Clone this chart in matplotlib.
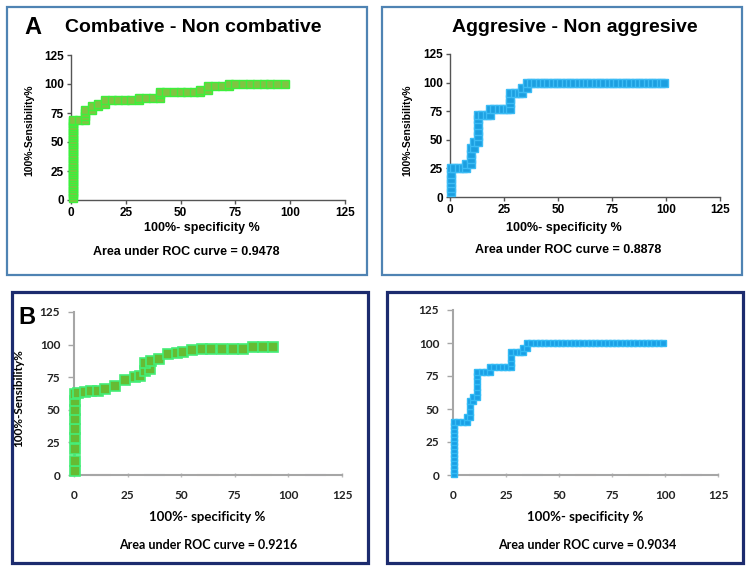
import matplotlib
matplotlib.use("Agg")
import matplotlib.pyplot as plt
from matplotlib.patches import Rectangle

W, H = 751, 569

# ---------------- data ----------------
ticks = [0, 25, 50, 75, 100, 125]
tick_labels = ["0", "25", "50", "75", "100", "125"]

titles = ["Combative - Non combative", "Aggresive - Non aggresive"]
auc_texts = ["Area under ROC curve = 0.9478", "Area under ROC curve = 0.8878",
             "Area under ROC curve = 0.9216", "Area under ROC curve = 0.9034"]
xlabel = "100%- specificity %"
ylabel = "100%-Sensibility%"

# Panel A, combative
a1_fpr = [1, 1, 1, 1, 1, 1, 1, 1, 1, 1, 1, 1, 1, 1, 1, 1, 1, 1, 1, 1, 1, 1, 1, 1, 1, 1, 1, 1, 1, 1, 1, 1, 1, 1,
          1, 3.5, 6.5, 6.5, 6.5, 6.5, 9.5, 9.5, 12.5, 12.5, 15.5, 15.5, 18.5, 21.5, 24.5, 27.5, 31, 31,
          34, 37.5, 40.5, 40.5, 40.5, 43.5, 47, 50, 53, 56, 59, 59, 62.5, 62.5, 65.5, 69, 72, 72,
          75, 78.5, 81.5, 85, 88, 91, 94, 97.5]
a1_tpr = [2, 4, 6, 8, 10, 12, 14, 16, 18, 20, 22, 24, 26, 28, 30, 32, 34, 36, 38, 40, 42, 44, 46, 48, 50, 52, 54,
          56, 58, 60, 62, 64, 66, 68,
          69, 69, 69, 72, 75, 78, 78, 81, 81, 83, 83, 86, 86, 86, 86, 86, 86, 88,
          88, 88, 88, 91, 93, 93, 93, 93, 93, 93, 93, 95, 95, 98, 98, 98, 98, 100,
          100, 100, 100, 100, 100, 100, 100, 100]

# Panel A, aggressive
a2_fpr = [0.5, 0.5, 0.5, 0.5, 0.5, 0.5, 2, 4, 6, 7.5, 7.5, 9.5, 9.5, 9.5, 9.5, 11, 11,
          13, 13, 13, 13, 13, 13, 15, 17, 18.5, 18.5, 20.5, 22.5, 24.5, 26.5, 28,
          28, 28, 28, 30, 32, 33.5, 33.5, 35.5, 35.5,
          37.5, 39.5, 41.5, 43.5, 45.5, 47.5, 49.5, 51.5, 53.5, 55.5, 57.5, 59.5, 61.5, 63.5, 65.5, 67.5,
          69.5, 71.5, 73.5, 75.5, 77.5, 79.5, 81.5, 83.5, 85.5, 87.5, 89.5, 91.5, 93.5, 95.5, 97.5, 99]
a2_tpr = [4, 8, 12, 16, 20, 25, 25, 25, 25, 25, 29, 29, 33, 38, 43, 43, 48,
          48, 53, 58, 63, 68, 72, 72, 72, 72, 77, 77, 77, 77, 77, 77,
          82, 86, 91, 91, 91, 91, 95, 95, 100,
          100, 100, 100, 100, 100, 100, 100, 100, 100, 100, 100, 100, 100, 100, 100, 100,
          100, 100, 100, 100, 100, 100, 100, 100, 100, 100, 100, 100, 100, 100, 100, 100]

# Panel B, combative
b1_fpr = [0.5, 0.5, 0.5, 0.5, 0.5, 0.5, 0.5, 0.5, 0.5,
          2, 5, 8, 11, 14.5, 19, 24, 28.5, 31,
          33, 35.5, 33, 36, 39.5, 44, 48, 51, 55, 59.5, 64,
          69, 74, 79, 83.5, 88, 93]
b1_tpr = [3, 11, 20, 28, 35, 43, 50, 57, 62,
          63, 64, 64.5, 64.5, 66, 68, 73, 75, 76,
          80, 81, 86, 87.5, 89, 92.5, 93.5, 94.5, 96, 96.5, 97,
          97, 97, 97, 98, 98, 98]

# Panel B, aggressive
b2_fpr = [0.5, 0.5, 0.5, 0.5, 0.5, 0.5, 0.5, 0.5, 0.5, 0.5, 0.5, 0.5, 0.5, 0.5,
          2.5, 4.5, 6.5, 6.5, 8, 8, 8, 8, 9.5, 9.5, 11.5,
          11.5, 11.5, 11.5, 11.5, 11.5, 13.5, 15.5, 17.5,
          17.5, 19.5, 21.5, 23.5, 25.5, 27.5, 27.5, 27.5, 27.5,
          29.5, 31.5, 33, 33, 35, 35,
          37, 39, 41, 43, 45, 47, 49, 51, 53, 55, 57, 59, 61, 63, 65, 67,
          69, 71, 73, 75, 77, 79, 81, 83, 85, 87, 89, 91, 93, 95, 97, 99]
b2_tpr = [1, 4, 7, 10, 13, 16, 19, 22, 25, 28, 31, 34, 37, 40,
          40, 40, 40, 44, 44, 48, 52, 56, 56, 59, 59,
          63, 67, 71, 75, 78, 78, 78, 78,
          82, 82, 82, 82, 82, 82, 85, 89, 93,
          93, 93, 93, 96, 96, 100,
          100, 100, 100, 100, 100, 100, 100, 100, 100, 100, 100, 100, 100, 100, 100, 100,
          100, 100, 100, 100, 100, 100, 100, 100, 100, 100, 100, 100, 100, 100, 100, 100]

# faint hidden series along the x axis in panel B
seg_start = [8, 33, 58, 83, 108]
seg_end = [17, 42, 67, 92, 117]
seg_colors = ["#c0504d", "#4f81bd", "#f79646", "#9bbb59", "#8064a2"]

# ---------------- figure ----------------
fig = plt.figure(figsize=(W / 100, H / 100), dpi=100)
fig.patch.set_facecolor("white")


def fx(x):
    return x / W


def fy(y):
    return 1 - y / H


def add_axes(x0, x125, y0, y125):
    return fig.add_axes([fx(x0), fy(y0), (x125 - x0) / W, (y0 - y125) / H])


def border(x0, y0, x1, y1, color, lw):
    fig.patches.append(Rectangle((fx(x0), fy(y1)), (x1 - x0) / W, (y1 - y0) / H,
                                 transform=fig.transFigure, fill=False,
                                 edgecolor=color, linewidth=lw, zorder=0))


FA = "Liberation Sans"
FB = "Lato"


def style_a(ax):
    ax.set_xlim(0, 125)
    ax.set_ylim(0, 125)
    ax.set_xticks(ticks)
    ax.set_yticks(ticks)
    ax.set_xticklabels(tick_labels, fontsize=8.5, fontweight="bold", family=FA)
    ax.set_yticklabels(tick_labels, fontsize=8.5, fontweight="bold", family=FA)
    for s in ["top", "right"]:
        ax.spines[s].set_visible(False)
    for s in ["left", "bottom"]:
        ax.spines[s].set_color("#555555")
        ax.spines[s].set_linewidth(1.0)
    ax.tick_params(length=3, width=1, color="#555555", pad=2)
    ax.patch.set_alpha(0)


def style_b(ax):
    ax.set_xlim(0, 125)
    ax.set_ylim(0, 125)
    ax.set_xticks(ticks)
    ax.set_yticks(ticks)
    ax.set_xticklabels(tick_labels, fontsize=8.5, fontweight="bold", family=FB, color="#222222")
    ax.set_yticklabels(tick_labels, fontsize=8.5, fontweight="bold", family=FB, color="#222222")
    for s in ["top", "right"]:
        ax.spines[s].set_visible(False)
    for s in ["left", "bottom"]:
        ax.spines[s].set_color("#a6a6a6")
        ax.spines[s].set_linewidth(1.5)
    ax.tick_params(axis="y", length=4, width=1, color="#a6a6a6", pad=6)
    ax.tick_params(axis="x", length=3, width=1, color="#bbbbbb", pad=9, direction="inout")
    ax.patch.set_alpha(0)


# borders
border(7, 7, 367, 275, "#4f83b3", 1.6)
border(382, 7, 742, 275, "#4f83b3", 1.6)
border(12, 292, 368, 563, "#1c2b6e", 2.3)
border(387, 292, 743, 563, "#1c2b6e", 2.3)

# Panel A1
ax1 = add_axes(71, 345, 200, 55)
style_a(ax1)
ax1.plot(a1_fpr, a1_tpr, color="#3de03d", lw=2.5, marker="s", ms=5.2,
         mfc="#80c442", mec="#3cf03c", mew=1, clip_on=False, zorder=3)

# Panel A2
ax2 = add_axes(450, 720, 197, 54)
style_a(ax2)
ax2.plot(a2_fpr, a2_tpr, color="#2eb0f0", lw=4, marker="s", ms=5.8,
         mfc="#1c9fe0", mec="#3cbcf5", mew=1, clip_on=False, zorder=3)

# Panel B1
ax3 = add_axes(74, 342, 475, 312)
style_b(ax3)
for s0, s1, c in zip(seg_start, seg_end, seg_colors):
    ax3.plot([s0, s1], [0, 0], color=c, lw=1.5, alpha=0.45, clip_on=False, zorder=2)
ax3.plot(b1_fpr, b1_tpr, color="#33dd55", lw=1, marker="s", ms=7.5,
         mfc="#66bb33", mec="#44ee77", mew=1.2, clip_on=False, zorder=3)

# Panel B2
ax4 = add_axes(453, 718, 475, 310)
style_b(ax4)
for s0, s1, c in zip(seg_start, seg_end, seg_colors):
    ax4.plot([s0, s1], [0, 0], color=c, lw=1.5, alpha=0.45, clip_on=False, zorder=2)
ax4.plot(b2_fpr, b2_tpr, color="#22aaee", lw=3.5, marker="s", ms=5,
         mfc="#1a9fe5", mec="#33bbf5", mew=1, clip_on=False, zorder=3)

# texts panel A
fig.text(fx(33), fy(28), "A", fontsize=17, fontweight="heavy", family=FA, ha="center", va="center")
fig.text(fx(193), fy(27), titles[0], fontsize=14, fontweight="bold", family=FA, ha="center", va="center")
fig.text(fx(575), fy(27), titles[1], fontsize=14, fontweight="bold", family=FA, ha="center", va="center")
fig.text(fx(202), fy(228), xlabel, fontsize=9, fontweight="bold", family=FA, ha="center", va="center")
fig.text(fx(564), fy(228), xlabel, fontsize=9, fontweight="bold", family=FA, ha="center", va="center")
fig.text(fx(186), fy(252), auc_texts[0], fontsize=9, fontweight="bold", family=FA, ha="center", va="center")
fig.text(fx(568), fy(250), auc_texts[1], fontsize=9, fontweight="bold", family=FA, ha="center", va="center")
fig.text(fx(29), fy(130), ylabel, fontsize=7.5, fontweight="bold", family=FA, ha="center", va="center", rotation=90)
fig.text(fx(407), fy(130), ylabel, fontsize=7.5, fontweight="bold", family=FA, ha="center", va="center", rotation=90)

# texts panel B
fig.text(fx(27), fy(318), "B", fontsize=17, fontweight="heavy", family=FA, ha="center", va="center")
fig.text(fx(19), fy(398), ylabel, fontsize=8.5, fontweight="bold", family=FB, ha="center", va="center", rotation=90)
fig.text(fx(207), fy(517), xlabel, fontsize=9.5, fontweight="bold", family=FB, ha="center", va="center")
fig.text(fx(585), fy(517), xlabel, fontsize=9.5, fontweight="bold", family=FB, ha="center", va="center")
fig.text(fx(208), fy(545), auc_texts[2], fontsize=9, fontweight="bold", family=FB, ha="center", va="center")
fig.text(fx(587), fy(545), auc_texts[3], fontsize=9, fontweight="bold", family=FB, ha="center", va="center")

fig.savefig("out.png", dpi=100, facecolor="white")
